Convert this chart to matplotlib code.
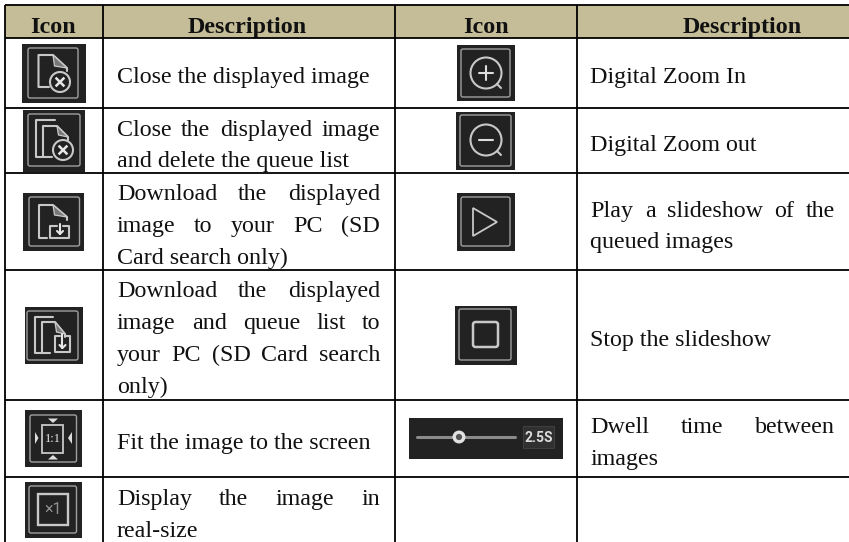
"""Icon / description table drawn on a pixel-sized axes."""

import matplotlib

matplotlib.use("Agg")
import matplotlib.pyplot as plt
from matplotlib.patches import Circle, FancyBboxPatch, Polygon, Rectangle

W, H = 849, 542
SERIF = ["Liberation Serif", "DejaVu Serif"]
FONT_PT = 17.3
BG = "#222222"
FRAME = "#a0a0a0"
GLYPH = "#c8c8c8"
TAN = "#c4bd97"

header = ["Icon", "Description", "Icon", "Description"]

left_desc = [
    ["Close the displayed image"],
    ["Close the displayed image", "and delete the queue list"],
    ["Download the displayed", "image to your PC (SD", "Card search only)"],
    ["Download the displayed", "image and queue list to", "your PC (SD Card search", "only)"],
    ["Fit the image to the screen"],
    ["Display the image in", "real-size"],
]
right_desc = [
    ["Digital Zoom In"],
    ["Digital Zoom out"],
    ["Play a slideshow of the", "queued images"],
    ["Stop the slideshow"],
    ["Dwell time between", "images"],
]
slider_label = "2.5S"
fit_label = "1:1"
real_label = "×1"

# layout, in pixels
col_x = [5, 103, 395, 577]
row_y = [5, 37.5, 107.5, 173, 270, 400, 477]
left_base = [[83], [136, 167], [200, 232, 264], [297, 329, 361, 393], [449], [505, 537]]
right_base = [[83], [151], [217, 248], [346], [433, 465]]
header_x = [53, 247, 486, 742]
LEFT_TEXT = (117, 380)
RIGHT_TEXT = (590.5, 835)

fig = plt.figure(figsize=(W / 100, H / 100), dpi=100)
ax = fig.add_axes([0, 0, 1, 1])
ax.set_xlim(0, W)
ax.set_ylim(H, 0)
ax.axis("off")
renderer = fig.canvas.get_renderer()


def word_width(word):
    t = ax.text(0, 0, word, family=SERIF, fontsize=FONT_PT)
    w = t.get_window_extent(renderer).width
    t.remove()
    return w


def draw_cell(lines, baselines, span):
    """Justified paragraph: every line but the last is stretched to the span."""
    x0, x1 = span
    for i, (line, y) in enumerate(zip(lines, baselines)):
        words = line.split()
        last = i == len(lines) - 1
        if last or len(words) == 1:
            ax.text(x0, y, line, family=SERIF, fontsize=FONT_PT, va="baseline", color="#111111")
            continue
        widths = [word_width(w) for w in words]
        gap = (x1 - x0 - sum(widths)) / (len(words) - 1)
        x = x0
        for w, ww in zip(words, widths):
            ax.text(x, y, w, family=SERIF, fontsize=FONT_PT, va="baseline", color="#111111")
            x += ww + gap


def stroke(xs, ys, color=GLYPH, lw=1.5):
    ax.plot(xs, ys, color=color, lw=lw, solid_capstyle="round", solid_joinstyle="round", zorder=3)


def icon_box(bg, frame=None):
    x0, y0, x1, y1 = bg
    ax.add_patch(Rectangle((x0, y0), x1 - x0, y1 - y0, fc=BG, ec="none", zorder=1))
    if frame:
        fx0, fy0, fx1, fy1 = frame
        ax.add_patch(FancyBboxPatch((fx0, fy0), fx1 - fx0, fy1 - fy0,
                                    boxstyle="round,pad=0,rounding_size=2",
                                    fc="none", ec=FRAME, lw=1.0, zorder=2))


def doc(left, top, fold_x, fold_r, fold_y, bottom, end_x):
    stroke([end_x, left, left, fold_x, fold_r, fold_r],
           [bottom, bottom, top, top, fold_y, fold_y + 3])
    ax.add_patch(Polygon([(fold_x, top), (fold_r, fold_y), (fold_x + 1.5, fold_y - 2)],
                         fc="#777777", ec=GLYPH, lw=0.9, zorder=3))


def close_badge(cx, cy, r):
    ax.add_patch(Circle((cx, cy), r, fc=BG, ec=GLYPH, lw=1.5, zorder=4))
    s = r * 0.35
    ax.plot([cx - s, cx + s], [cy - s, cy + s], color="#e6e6e6", lw=1.8, zorder=5)
    ax.plot([cx - s, cx + s], [cy + s, cy - s], color="#e6e6e6", lw=1.8, zorder=5)


def save_badge(cx, top, bottom, half):
    stroke([cx - half * 0.35, cx - half, cx - half, cx + half, cx + half, cx + half * 0.35],
           [top + 2, top + 2, bottom, bottom, top + 2, top + 2])
    stroke([cx, cx], [top, bottom - 4], color="#e6e6e6")
    stroke([cx - 3, cx, cx + 3], [bottom - 7, bottom - 4, bottom - 7], color="#e6e6e6")


def zoom_glyph(cx, cy, plus):
    ax.add_patch(Circle((cx, cy), 15.5, fc="none", ec=GLYPH, lw=1.5, zorder=3))
    stroke([cx + 11, cx + 15], [cy + 11, cy + 15])
    stroke([cx - 7, cx + 7], [cy, cy], color="#dddddd")
    if plus:
        stroke([cx, cx], [cy - 7, cy + 7], color="#dddddd")


# header band and rules
ax.add_patch(Rectangle((col_x[0], row_y[0]), W - col_x[0], row_y[1] - row_y[0], fc=TAN, ec="none", zorder=0))
for y in row_y:
    ax.plot([col_x[0], W], [y, y], color="black", lw=1.3, solid_capstyle="butt", zorder=6)
for x in col_x:
    ax.plot([x, x], [row_y[0], H], color="black", lw=1.3, solid_capstyle="butt", zorder=6)

for x, label in zip(header_x, header):
    ax.text(x, 33, label, family=SERIF, fontsize=FONT_PT, fontweight="bold",
            ha="center", va="baseline", color="#111111")

for lines, base in zip(left_desc, left_base):
    draw_cell(lines, base, LEFT_TEXT)
for lines, base in zip(right_desc, right_base):
    draw_cell(lines, base, RIGHT_TEXT)

# left column icons
icon_box((22, 44, 86, 103), (28, 48, 78, 98))
doc(38.5, 55, 53, 67, 68, 87, 49)
close_badge(60, 82, 10)

icon_box((23, 110, 85, 172), (28, 114, 80, 166))
stroke([43, 36, 36, 55], [157, 157, 120, 120])
doc(43, 126, 57, 68, 137, 157, 52)
close_badge(63, 150, 10)

icon_box((23, 193, 84, 251), (29, 197, 79.5, 246))
doc(39, 205, 53, 67, 217, 238, 47)
save_badge(60, 224, 238, 9.5)

icon_box((25, 307, 83, 364), (27, 311, 78, 360))
stroke([43, 35, 35, 53], [353, 353, 317, 317])
doc(42, 322, 55, 65, 334, 353, 50)
save_badge(62.5, 334, 352, 7.5)

icon_box((25, 410, 82, 467), (30, 415, 76.5, 462))
ax.add_patch(Rectangle((42, 425), 21.5, 28, fc="none", ec=GLYPH, lw=1.3, zorder=3))
ax.text(52.7, 439, fit_label, family=SERIF, fontsize=9, color="#e8e8e8", ha="center", va="center", zorder=4)
for tri in ([(48, 418.5), (58, 418.5), (53, 423)], [(48, 459.5), (58, 459.5), (53, 455)],
            [(35, 432), (35, 444), (38.5, 438)], [(72, 432), (72, 444), (68, 438)]):
    ax.add_patch(Polygon(tri, fc="#dddddd", ec="none", zorder=3))

icon_box((25, 482, 82, 538), (29, 486, 76.5, 533))
ax.add_patch(Rectangle((38, 494), 30.5, 30.5, fc="none", ec=GLYPH, lw=1.7, zorder=3))
ax.text(53.5, 509.5, real_label, family=["Roboto", "DejaVu Sans"], fontsize=11.5, color="#8f8f8f",
        ha="center", va="center", zorder=4)

# right column icons
icon_box((457, 45, 515, 101), (461, 49, 510, 97))
zoom_glyph(486, 73, True)

icon_box((456, 112, 515, 170), (460, 115, 511, 166))
zoom_glyph(486, 140, False)

icon_box((457, 193, 515, 251), (461, 197, 510, 246))
ax.add_patch(Polygon([(473, 208), (473, 236), (497, 222)], fc="none", ec=GLYPH, lw=1.3, zorder=3))

icon_box((455, 306, 517, 365), (459, 309, 511, 360))
ax.add_patch(FancyBboxPatch((473, 322), 25, 25, boxstyle="round,pad=0,rounding_size=2.5",
                            fc="none", ec=GLYPH, lw=1.8, zorder=3))

icon_box((409, 418, 563, 459))
stroke([417, 515], [437, 437], color="#8a8a8a", lw=2.2)
ax.add_patch(Circle((459, 437), 4.8, fc="#555555", ec="#e2e2e2", lw=2.4, zorder=4))
ax.add_patch(Rectangle((523, 426), 31, 22, fc="#303030", ec="#3f3f3f", lw=0.8, zorder=3))
ax.text(538.5, 437.5, slider_label, family=["Roboto", "DejaVu Sans"], fontsize=10, fontweight="bold",
        color="#dcdcdc", ha="center", va="center", zorder=4)

fig.savefig("out.png", dpi=100, facecolor="white")
